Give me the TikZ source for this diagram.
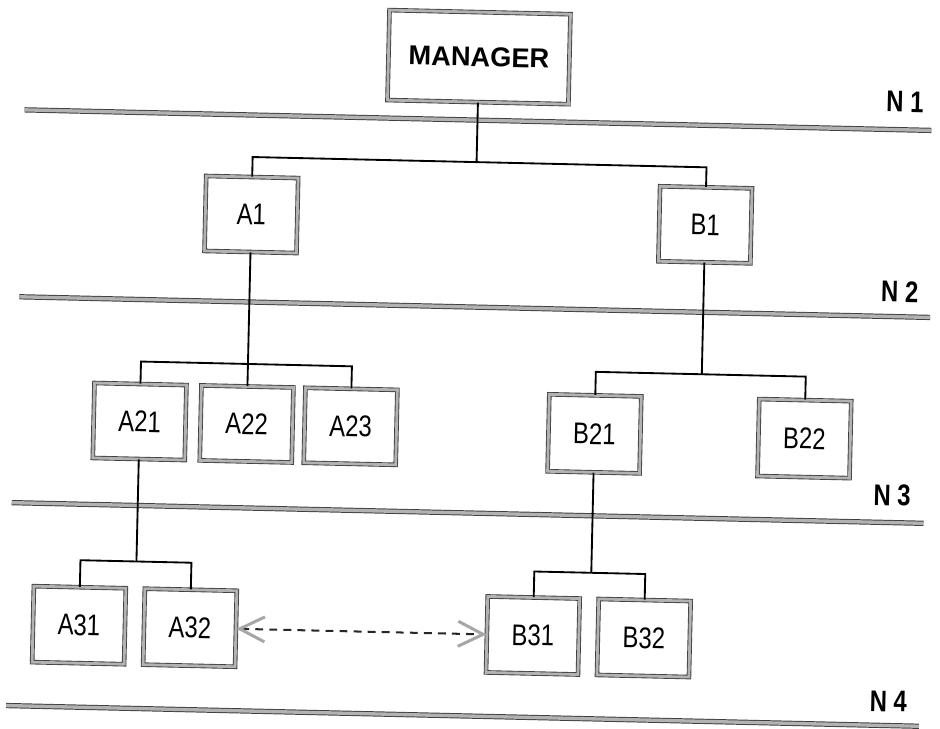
\documentclass[tikz,border=0pt]{standalone}
\usepackage{fontspec}
\setmainfont{Liberation Sans}
\newfontfamily\narrowsf[FakeStretch=0.8]{Liberation Sans}
\usetikzlibrary{arrows.meta}
\tikzset{
  box/.style={draw=black!75, line width=0.5pt, double=gray!60, double distance=1.6pt,
    fill=white, minimum width=1.84cm, minimum height=1.5cm, inner sep=0pt,
    font=\narrowsf\fontsize{17}{20}\selectfont},
  levelline/.style={draw=black!75, line width=0.55pt, double=gray!60, double distance=1.9pt},
  conn/.style={line width=1.05pt, black},
  lbl/.style={font=\narrowsf\bfseries\fontsize{17}{20}\selectfont},
  linkarrow/.style={line width=1.15pt, black!85, dash pattern=on 4.5pt off 3.5pt,
    {Straight Barb[length=5mm, width=5mm, line width=1.7pt, color=gray!70]}-{Straight Barb[length=5mm, width=5mm, line width=1.7pt, color=gray!70]}}
}
\begin{document}
\begin{tikzpicture}[x=0.02cm, y=-0.02cm]
\useasboundingbox (0,0) rectangle (940,728);
\begin{scope}[rotate around={-1.3:(470,364)}, transform shape]
  % level lines
  \coordinate (l1a) at (19,120);  \coordinate (l1b) at (926,120);
  \coordinate (l2a) at (18,307);  \coordinate (l2b) at (929,307);
  \coordinate (l3a) at (15,513);  \coordinate (l3b) at (927,513);
  \coordinate (l4a) at (14,716);  \coordinate (l4b) at (927,716);
  \draw[levelline] (l1a) -- (l1b);
  \draw[levelline] (l2a) -- (l2b);
  \draw[levelline] (l3a) -- (l3b);
  \draw[levelline] (l4a) -- (l4b);

  % level labels
  \node[lbl] (n1) at (899,92) {N 1};
  \node[lbl] (n2) at (898,282) {N 2};
  \node[lbl] (n3) at (895,486) {N 3};
  \node[lbl] (n4) at (896,692) {N 4};

  % boxes
  \node[box, minimum width=3.62cm, minimum height=1.8cm,
        font=\bfseries\fontsize{15.5}{18}\selectfont] (mgr) at (472,57) {MANAGER};
  \node[box] (A1) at (248,219.5) {A1};
  \node[box] (B1) at (702,219.5) {B1};
  \node[box] (A21) at (141,429) {A21};
  \node[box] (A22) at (248,429) {A22};
  \node[box] (A23) at (352,429) {A23};
  \node[box, minimum height=1.54cm] (B21) at (596,431) {B21};
  \node[box, minimum height=1.54cm] (B22) at (806,431) {B22};
  \node[box, minimum height=1.52cm] (A31) at (85,634) {A31};
  \node[box, minimum height=1.52cm] (A32) at (196,634) {A32};
  \node[box, minimum height=1.52cm] (B31) at (539,634) {B31};
  \node[box, minimum height=1.52cm] (B32) at (650,634) {B32};

  % junction points
  \coordinate (j1m) at (472,162); \coordinate (j1a) at (248,162); \coordinate (j1b) at (702,162);
  \coordinate (j2al) at (141,369); \coordinate (j2am) at (248,369); \coordinate (j2ar) at (352,369);
  \coordinate (j2bl) at (596,369); \coordinate (j2bm) at (702,369); \coordinate (j2br) at (806,369);
  \coordinate (j3al) at (85,569); \coordinate (j3am) at (141,569); \coordinate (j3ar) at (196,569);
  \coordinate (j3bl) at (539,570); \coordinate (j3bm) at (596,570); \coordinate (j3br) at (650,570);

  % connectors
  \draw[conn] (mgr.south) -- (j1m);
  \draw[conn] (A1.north) -- (j1a) -- (j1b) -- (B1.north);
  \draw[conn] (A1.south) -- (j2am);
  \draw[conn] (A21.north) -- (j2al) -- (j2ar) -- (A23.north);
  \draw[conn] (A22.north) -- (j2am);
  \draw[conn] (B1.south) -- (j2bm);
  \draw[conn] (B21.north) -- (j2bl) -- (j2br) -- (B22.north);
  \draw[conn] (A21.south) -- (j3am);
  \draw[conn] (A31.north) -- (j3al) -- (j3ar) -- (A32.north);
  \draw[conn] (B21.south) -- (j3bm);
  \draw[conn] (B31.north) -- (j3bl) -- (j3br) -- (B32.north);

  % dashed link
  \draw[linkarrow] (A32.east) -- (B31.west);
\end{scope}
\end{tikzpicture}
\end{document}
